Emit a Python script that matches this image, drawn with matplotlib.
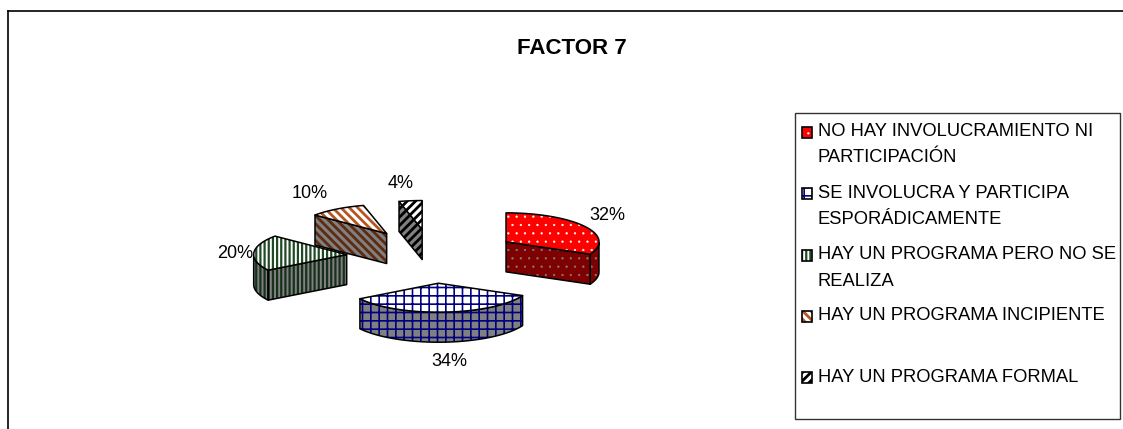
import matplotlib.pyplot as plt
import numpy as np
from matplotlib.patches import Polygon, Rectangle

W, H = 1123, 429
DPI = 100

labels = [
    "NO HAY INVOLUCRAMIENTO NI\nPARTICIPACIÓN",
    "SE INVOLUCRA Y PARTICIPA\nESPORÁDICAMENTE",
    "HAY UN PROGRAMA PERO NO SE\nREALIZA",
    "HAY UN PROGRAMA INCIPIENTE",
    "HAY UN PROGRAMA FORMAL",
]
values = [32, 34, 20, 10, 4]
top_colors = ["#ff0000", "#ffffff", "#ffffff", "#ffffff", "#ffffff"]
side_colors = ["#7f0000", "#808080", "#808080", "#808080", "#808080"]
hatch_colors = ["#ffffff", "#000080", "#1f4a25", "#b5551f", "#000000"]
side_hatch_colors = ["#808080", "#000080", "#16301a", "#5e2a10", "#000000"]
hatches = ["..", "++", "||||", "\\\\\\\\", "////"]
hatch_widths = [0.4, 1.2, 1.6, 2.0, 2.0]

# pie geometry, in pixels
cx, cy = 433, 256.3
rx, ry = 93, 29
depth = 30
explode = 0.93

plt.rcParams["font.family"] = ["Liberation Sans", "DejaVu Sans"]


def point(cx0, cy0, ang):
    # angle in degrees, clockwise from twelve o'clock
    t = np.radians(ang)
    return cx0 + rx * np.sin(t), cy0 - ry * np.cos(t)


def add_face(ax, pts, face, hatch, hatch_color, z):
    ax.add_patch(Polygon(pts, closed=True, facecolor=face, edgecolor=hatch_color,
                         hatch=hatch, linewidth=0, zorder=z))
    ax.add_patch(Polygon(pts, closed=True, facecolor="none", edgecolor="black",
                         linewidth=1.1, joinstyle="round", zorder=z))


def draw_slice(ax, i, a0, a1, z):
    mid = np.radians((a0 + a1) / 2)
    x0 = cx + explode * rx * np.sin(mid)
    y0 = cy - explode * ry * np.cos(mid)
    angs = np.linspace(a0, a1, 60)
    ax_, ay_ = point(x0, y0, angs)

    # outer wall, only the part on the near half of the ellipse
    near = angs[(angs >= 90) & (angs <= 270)]
    if len(near) > 1:
        nx, ny = point(x0, y0, near)
        pts = np.r_[np.c_[nx, ny], np.c_[nx[::-1], ny[::-1] + depth]]
        add_face(ax, pts, side_colors[i], hatches[i], side_hatch_colors[i], z)

    # flat walls that face the viewer
    for a, show in ((a0, np.sin(np.radians(a0)) < 0), (a1, np.sin(np.radians(a1)) > 0)):
        if show:
            px, py = point(x0, y0, a)
            pts = [(x0, y0), (px, py), (px, py + depth), (x0, y0 + depth)]
            add_face(ax, pts, side_colors[i], hatches[i], side_hatch_colors[i], z)

    top = np.r_[[[x0, y0]], np.c_[ax_, ay_]]
    add_face(ax, top, top_colors[i], hatches[i], hatch_colors[i], z)


fig = plt.figure(figsize=(W / DPI, H / DPI), dpi=DPI)
ax = fig.add_axes([0, 0, 1, 1])
ax.set_xlim(0, W)
ax.set_ylim(H, 0)
ax.axis("off")

# outer frame runs off the bottom and right of the canvas
ax.plot([8, 8], [H, 11], color="black", lw=1.2)
ax.plot([8, W], [11, 11], color="black", lw=1.2)

ax.text(572, 49, "FACTOR 7", ha="center", va="center", fontsize=16, fontweight="bold", color="black")

edges = np.r_[0, np.cumsum(values)] / sum(values) * 360
for i in range(len(values)):
    plt.rcParams["hatch.linewidth"] = hatch_widths[i]
    draw_slice(ax, i, edges[i], edges[i + 1], 3 + i)

pct_pos = [(607.5, 215), (449, 362), (235, 253), (310, 194), (401, 183)]
for v, (x, y) in zip(values, pct_pos):
    ax.text(x, y, f"{v}%", ha="center", va="center", fontsize=13, color="black")

# legend
ax.add_patch(Rectangle((795, 113), 325, 306, facecolor="white", edgecolor="#333333", lw=1, zorder=2))
legend_y = [130, 192, 253, 313, 375]
swatch_y = [127, 188, 250, 311, 372]
for i, (lab, y, sy) in enumerate(zip(labels, legend_y, swatch_y)):
    plt.rcParams["hatch.linewidth"] = hatch_widths[i]
    ax.add_patch(Rectangle((802, sy), 10, 11, facecolor=top_colors[i], edgecolor=hatch_colors[i],
                           hatch=hatches[i], linewidth=0, zorder=3))
    ax.add_patch(Rectangle((802, sy), 10, 11, facecolor="none", edgecolor="black", lw=1.2, zorder=3))
    # multi-line text is anchored on the baseline of its last line
    ax.text(817.5, y + 6.5 + 26 * lab.count("\n"), lab, ha="left", va="baseline", fontsize=13.2,
            linespacing=1.73, color="black", zorder=4)

fig.savefig("out.png", dpi=DPI)
